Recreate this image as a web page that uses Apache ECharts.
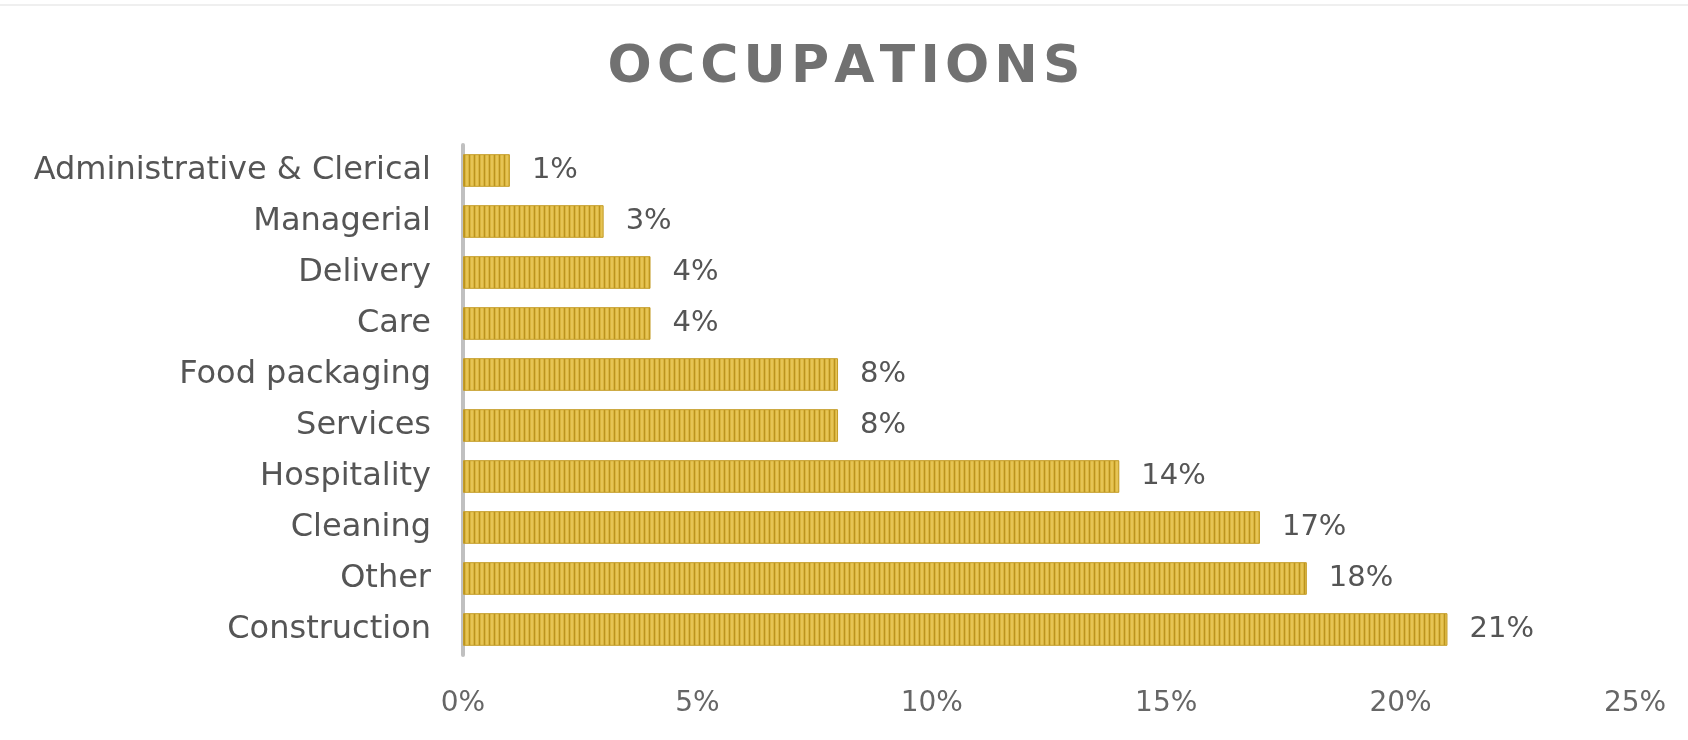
<!DOCTYPE html>
<html>
<head>
<meta charset="utf-8">
<script src="https://cdn.jsdelivr.net/npm/echarts@6/dist/echarts.min.js"></script>
<style>
  html, body { margin: 0; padding: 0; background: #fff; }
  #myChart { width: 1688px; height: 740px; }
</style>
</head>
<body>
<div id="myChart"></div>
<script>
const categories = ['Administrative & Clerical', 'Managerial', 'Delivery', 'Care', 'Food packaging',
    'Services', 'Hospitality', 'Cleaning', 'Other', 'Construction'];
const shares = [1, 3, 4, 4, 8, 8, 14, 17, 18, 21];
const xTicks = [0, 5, 10, 15, 20, 25];

// striped gold fill for the bars
function stripes() {
    let c = document.createElement('canvas');
    c.width = 5;
    c.height = 2;
    let ctx = c.getContext('2d');
    ctx.fillStyle = '#dab53e';
    ctx.fillRect(0, 0, 5, 2);
    ctx.fillStyle = '#e6c455';
    ctx.fillRect(1, 0, 2, 2);
    ctx.fillStyle = '#bb931f';
    ctx.fillRect(4, 0, 1, 2);
    return c;
}

let myChart = echarts.init(document.getElementById('myChart'));
let font = 'DejaVu Sans';
let option = {
    animation: false,
    backgroundColor: '#ffffff',
    title: {
        // hair spaces give the wide letter spacing
        text: 'OCCUPATIONS'.split('').join('\u200A'),
        left: 'center',
        top: 37,
        textStyle: {
            fontFamily: font,
            fontSize: 52,
            fontWeight: 'bold',
            color: '#717171'
        }
    },
    graphic: [
        {
            type: 'rect',
            shape: { x: 0, y: 4, width: 1688, height: 2 },
            style: { fill: '#efefef' }
        }
    ],
    grid: {
        left: 463,
        right: 53,
        top: 145,
        bottom: 85
    },
    xAxis: {
        type: 'value',
        min: xTicks[0],
        max: xTicks[xTicks.length - 1],
        interval: 5,
        splitLine: { show: false },
        axisLine: { show: false },
        axisTick: { show: false },
        axisLabel: {
            formatter: '{value}%',
            fontFamily: font,
            fontSize: 28,
            color: '#666666',
            margin: 35
        }
    },
    yAxis: {
        type: 'category',
        inverse: true,
        data: categories,
        axisLine: { lineStyle: { color: '#c0c0c0', width: 4 } },
        axisTick: { show: false },
        axisLabel: {
            fontFamily: font,
            fontSize: 32,
            color: '#555555',
            margin: 32
        }
    },
    series: [
        {
            name: 'Occupations',
            type: 'bar',
            data: shares,
            barWidth: '64%',
            itemStyle: {
                color: { image: stripes(), repeat: 'repeat' },
                borderColor: '#c49c26',
                borderWidth: 1
            },
            label: {
                show: true,
                position: 'right',
                distance: 22,
                formatter: '{c}%',
                fontFamily: font,
                fontSize: 29,
                color: '#555555'
            }
        }
    ]
};
myChart.setOption(option);
</script>
</body>
</html>
